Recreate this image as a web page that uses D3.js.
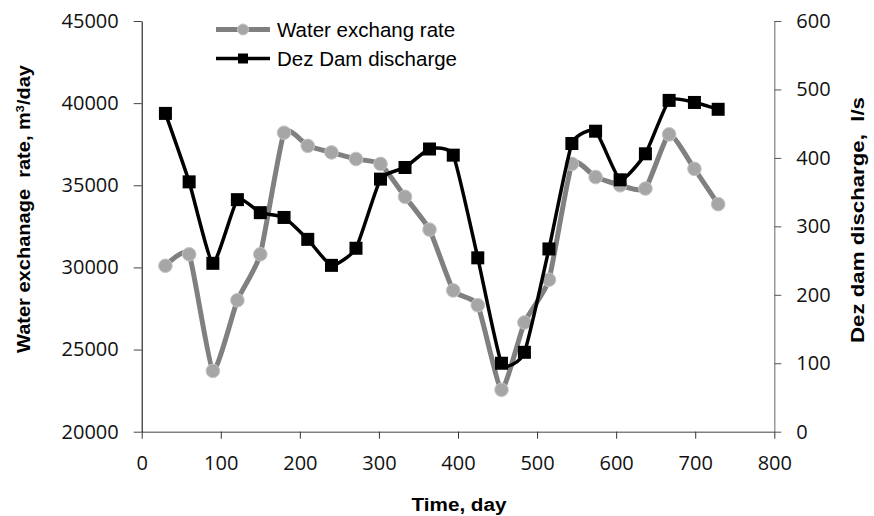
<!DOCTYPE html>
<html>
<head>
<meta charset="utf-8">
<script src="https://cdn.jsdelivr.net/npm/d3@7"></script>
<style>
html, body { margin: 0; padding: 0; background: #fff; }
svg { display: block; }
</style>
</head>
<body>
<svg id="chart" width="874" height="516"></svg>
<script>
// ---- data ----
const days = [30, 60, 90, 121, 150, 180, 210, 240, 271, 302, 333, 364, 394, 425, 455, 484, 515, 544, 574, 605, 637, 667, 699, 729];
const exchangeRate = [30100, 30800, 23700, 28000, 30800, 38200, 37400, 37000, 36600, 36300, 34300, 32300, 28600, 27700, 22550, 26650, 29250, 36300, 35500, 35000, 34800, 38100, 36000, 33850];
const damDischarge = [465, 365, 246, 339, 320, 313, 281, 243, 268, 369, 386, 413, 404, 254, 100, 116, 267, 421, 439, 368, 406, 484, 481, 471];
const xTicks = [0, 100, 200, 300, 400, 500, 600, 700, 800];
const yLeftTicks = [20000, 25000, 30000, 35000, 40000, 45000];
const yRightTicks = [0, 100, 200, 300, 400, 500, 600];
const seriesNames = ["Water exchang rate", "Dez Dam discharge"];

(function () {
const svg = d3.select("#chart");
const pL = 141.7, pR = 774.3, pT = 21, pB = 431.7;

const x = d3.scaleLinear().domain([0, 800]).range([pL, pR]);
const yL = d3.scaleLinear().domain([20000, 45000]).range([pB, pT]);
const yR = d3.scaleLinear().domain([0, 600]).range([pB, pT]);

const tickFont = "'Open Sans', 'DejaVu Sans', sans-serif";
const fmt = d3.format("d");

// x axis
const gx = svg.append("g").attr("transform", `translate(0,${pB})`)
  .call(d3.axisBottom(x).tickValues(xTicks).tickFormat(fmt).tickSize(7).tickSizeOuter(0).tickPadding(17));
gx.select(".domain").attr("stroke", "#808080").attr("stroke-width", 1.5);
gx.selectAll(".tick line").attr("stroke", "#333").attr("stroke-width", 1);
gx.selectAll("text").attr("font-family", tickFont).attr("font-size", "20px").attr("fill", "#111");

// left axis
const gl = svg.append("g").attr("transform", `translate(${pL},0)`)
  .call(d3.axisLeft(yL).tickValues(yLeftTicks).tickFormat(fmt).tickSize(8).tickSizeOuter(0).tickPadding(15));
gl.select(".domain").attr("stroke", "#000").attr("stroke-width", 1);
gl.selectAll(".tick line").attr("stroke", "#444");
gl.selectAll("text").attr("font-family", tickFont).attr("font-size", "20px").attr("fill", "#111");

// right axis
const gr = svg.append("g").attr("transform", `translate(${pR},0)`)
  .call(d3.axisRight(yR).tickValues(yRightTicks).tickFormat(fmt).tickSize(7).tickSizeOuter(0).tickPadding(15));
gr.select(".domain").attr("stroke", "#808080").attr("stroke-width", 1.2);
gr.selectAll(".tick line").attr("stroke", "#555");
gr.selectAll("text").attr("font-family", tickFont).attr("font-size", "20px").attr("fill", "#111");

// axis titles
const titleFont = "'Liberation Sans', Arial, sans-serif";
svg.append("text").attr("x", 459).attr("y", 510.5).attr("text-anchor", "middle")
  .attr("font-family", titleFont).attr("font-weight", "bold").attr("font-size", "17.5px")
  .attr("textLength", 95).attr("lengthAdjust", "spacingAndGlyphs").text("Time, day");

const lt = svg.append("text").attr("transform", "translate(30,209) rotate(-90)")
  .attr("text-anchor", "middle").attr("font-family", titleFont).attr("font-weight", "bold")
  .attr("font-size", "17.5px").attr("textLength", 288).attr("lengthAdjust", "spacingAndGlyphs")
  .style("white-space", "pre");
lt.append("tspan").text("Water exchanage  rate, m");
lt.append("tspan").attr("baseline-shift", "super").attr("font-size", "11px").text("3");
lt.append("tspan").text("/day");

svg.append("text").attr("transform", "translate(864,220) rotate(-90)")
  .attr("text-anchor", "middle").attr("font-family", titleFont).attr("font-weight", "bold")
  .attr("font-size", "17.5px").attr("textLength", 246).attr("lengthAdjust", "spacingAndGlyphs")
  .style("white-space", "pre").text("Dez dam discharge,  l/s");

// series
const exData = days.map((d, i) => [d, exchangeRate[i]]);
const dzData = days.map((d, i) => [d, damDischarge[i]]);

const curve = d3.curveCardinal.tension(0.5);
const lineL = d3.line().x(d => x(d[0])).y(d => yL(d[1])).curve(curve);
const lineR = d3.line().x(d => x(d[0])).y(d => yR(d[1])).curve(curve);

svg.append("path").datum(exData).attr("d", lineL).attr("fill", "none")
  .attr("stroke", "#808080").attr("stroke-width", 5).attr("stroke-linejoin", "round");
svg.append("g").selectAll("circle").data(exData).join("circle")
  .attr("cx", d => x(d[0])).attr("cy", d => yL(d[1])).attr("r", 6.8)
  .attr("fill", "#a6a6a6").attr("stroke", "#c4c4c4").attr("stroke-width", 1);

svg.append("path").datum(dzData).attr("d", lineR).attr("fill", "none")
  .attr("stroke", "#000").attr("stroke-width", 3.5).attr("stroke-linejoin", "round");
const sq = 13;
svg.append("g").selectAll("rect").data(dzData).join("rect")
  .attr("x", d => x(d[0]) - sq / 2).attr("y", d => yR(d[1]) - sq / 2)
  .attr("width", sq).attr("height", sq).attr("fill", "#000");

// legend
const lg = svg.append("g");
lg.append("line").attr("x1", 216).attr("x2", 270).attr("y1", 29.5).attr("y2", 29.5)
  .attr("stroke", "#808080").attr("stroke-width", 5);
lg.append("circle").attr("cx", 243).attr("cy", 29.5).attr("r", 5.5)
  .attr("fill", "#a6a6a6").attr("stroke", "#c4c4c4");
lg.append("text").attr("x", 277).attr("y", 36.5).attr("font-family", titleFont)
  .attr("font-size", "20.5px").attr("fill", "#000").text(seriesNames[0]);
lg.append("line").attr("x1", 216).attr("x2", 270).attr("y1", 58.5).attr("y2", 58.5)
  .attr("stroke", "#000").attr("stroke-width", 3.5);
lg.append("rect").attr("x", 238).attr("y", 53.5).attr("width", 10).attr("height", 10).attr("fill", "#000");
lg.append("text").attr("x", 277).attr("y", 65.5).attr("font-family", titleFont)
  .attr("font-size", "20.5px").attr("fill", "#000").text(seriesNames[1]);
})();
</script>
</body>
</html>
